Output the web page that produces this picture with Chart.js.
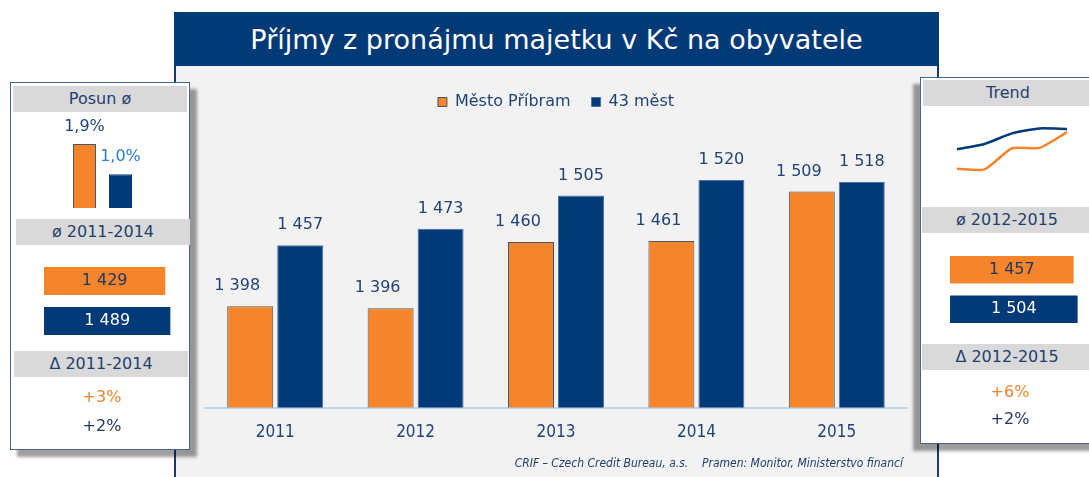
<!DOCTYPE html>
<html>
<head>
<meta charset="utf-8">
<script src="https://cdn.jsdelivr.net/npm/chart.js@4.4.1/dist/chart.umd.min.js"></script>
<style>
  body { margin: 0; width: 1089px; height: 477px; overflow: hidden; background: #fff; position: relative;
         font-family: "DejaVu Sans", sans-serif; color: #1f3f6f; }
  .abs { position: absolute; }
  #frame { left: 174px; top: 12px; width: 761px; height: 475px; border: 2px solid #1b3a6b; background: #f2f2f2; }
  #titlebar { left: 174px; top: 12px; width: 765px; height: 54px; background: #023a78; color: #fff;
              font: 27px "DejaVu Sans", sans-serif; text-align: center; line-height: 56px; }
  #footer { left: 400px; top: 456px; width: 503px; text-align: right; white-space: pre;
            font: italic 12px "DejaVu Sans Condensed", sans-serif; color: #1f3f6f; }
  .panel { background: #fff; border: 1.5px solid #44649a; }
  #left { left: 10px; top: 82px; width: 178px; height: 366px; box-shadow: 7px 7px 3px rgba(0,0,0,0.38); }
  #right { left: 920px; top: 77px; width: 180px; height: 365px; box-shadow: -7px 7px 3px rgba(0,0,0,0.38); }
  .band { background: #d9d9d9; text-align: center; font-size: 16px; line-height: 26px; height: 26px; }
  .big { text-align: center; font-size: 16px; width: 180px; }
  canvas { position: absolute; }
</style>
</head>
<body>
<div id="frame" class="abs"></div>
<div id="titlebar" class="abs">Příjmy z pronájmu majetku v Kč na obyvatele</div>
<canvas id="main" width="760" height="411" style="left:175px;top:66px"></canvas>
<div id="footer" class="abs">CRIF – Czech Credit Bureau, a.s.    Pramen: Monitor, Ministerstvo financí</div>

<div id="left" class="abs panel"></div>
<div class="abs band" style="left:13px;top:86px;width:174px;">Posun ø</div>
<div class="abs band" style="left:16px;top:219px;width:174px;">ø 2011-2014</div>
<div class="abs band" style="left:14px;top:351px;width:174px;">Δ 2011-2014</div>
<div class="abs big" style="left:12px;top:387px;color:#f5842a">+3%</div>
<div class="abs big" style="left:12px;top:416px;color:#1f3864">+2%</div>
<canvas id="posun" width="112" height="96" style="left:46px;top:112px"></canvas>
<canvas id="avgLeft" width="140" height="80" style="left:44px;top:261px"></canvas>

<div id="right" class="abs panel"></div>
<div class="abs band" style="left:923px;top:80px;width:170px;">Trend</div>
<div class="abs band" style="left:922px;top:207px;width:170px;">ø 2012-2015</div>
<div class="abs band" style="left:922px;top:344px;width:170px;">Δ 2012-2015</div>
<div class="abs big" style="left:920px;top:382px;color:#f5842a">+6%</div>
<div class="abs big" style="left:920px;top:409px;color:#1f3864">+2%</div>
<canvas id="trend" width="130" height="113" style="left:947px;top:98px"></canvas>
<canvas id="avgRight" width="140" height="79" style="left:950px;top:250px"></canvas>

<script>
// data
const years = ["2011", "2012", "2013", "2014", "2015"];
const seriesNames = ["Město Příbram", "43 měst"];
const pribram = [1398, 1396, 1460, 1461, 1509];
const mest43 = [1457, 1473, 1505, 1520, 1518];
const posun = [1.9, 1.0];
const avg2011_2014 = [1429, 1489];
const avg2012_2015 = [1457, 1504];

const ORANGE = "#f5842a";
const NAVY = "#003a78";
const TEXT = "#1f4378";

Chart.defaults.font.family = "DejaVu Sans";
Chart.defaults.animation = false;
Chart.defaults.responsive = false;

const fmtNum = (v) => String(v).replace(/\B(?=(\d{3})+(?!\d))/g, " ");
const fmtPct = (v) => v.toFixed(1).replace(".", ",") + "%";

// draws the value labels, above bars or inside them
function makeLabels(cfg) {
  return {
    id: "valueLabels",
    afterDatasetsDraw(chart) {
      const ctx = chart.ctx;
      ctx.save();
      ctx.font = '16px "DejaVu Sans"';
      ctx.textAlign = "center";
      ctx.textBaseline = "middle";
      chart.data.datasets.forEach((ds, di) => {
        chart.getDatasetMeta(di).data.forEach((bar, i) => {
          let x, y;
          if (cfg.inside) {
            x = (bar.x + bar.base) / 2;
            y = bar.y;
          } else {
            x = bar.x + (cfg.dx ? cfg.dx[di] : 0);
            y = bar.y - cfg.gap;
          }
          ctx.fillStyle = cfg.color(di, i);
          ctx.fillText(cfg.format(ds.data[i]), x, y);
        });
      });
      ctx.restore();
    },
  };
}

new Chart(document.getElementById("main"), {
  type: "bar",
  data: {
    labels: years,
    datasets: [
      { label: seriesNames[0], data: pribram, backgroundColor: ORANGE, borderColor: "#4a5568", borderWidth: 1 },
      { label: seriesNames[1], data: mest43, backgroundColor: NAVY, borderColor: "#4d6fa3", borderWidth: 1 },
    ],
  },
  options: {
    layout: { padding: { left: 30, right: 28, top: 7, bottom: 19 } },
    datasets: { bar: { categoryPercentage: 0.712, barPercentage: 0.92 } },
    plugins: {
      legend: {
        position: "top",
        labels: { boxWidth: 9, boxHeight: 9, padding: 21, color: TEXT, font: { size: 16 } },
      },
      tooltip: { enabled: false },
    },
    scales: {
      x: {
        grid: { display: false, drawTicks: false },
        border: { color: "#bdd7ee", width: 2 },
        ticks: { color: TEXT, padding: 15, font: { size: 17, family: "DejaVu Sans Condensed" } },
      },
      y: { display: false, min: 1300, max: 1578 },
    },
  },
  plugins: [makeLabels({ gap: 20, dx: [-13, 0], color: () => TEXT, format: fmtNum })],
});

new Chart(document.getElementById("posun"), {
  type: "bar",
  data: {
    labels: seriesNames,
    datasets: [{ data: posun, backgroundColor: [ORANGE, NAVY], borderColor: ["#4a5568", NAVY], borderWidth: 1 }],
  },
  options: {
    layout: { padding: { left: 20.5, right: 19.5, top: 3, bottom: 0 } },
    datasets: { bar: { categoryPercentage: 1, barPercentage: 0.64 } },
    plugins: { legend: { display: false }, tooltip: { enabled: false } },
    scales: { x: { display: false }, y: { display: false, min: 0, max: 2.76 } },
  },
  plugins: [makeLabels({ gap: 17.5, color: (d, i) => (i === 0 ? "#1f4378" : "#2f7fd8"), format: fmtPct })],
});

function avgChart(id, values) {
  new Chart(document.getElementById(id), {
    type: "bar",
    data: {
      labels: seriesNames,
      datasets: [{ data: values, backgroundColor: [ORANGE, NAVY], borderWidth: 0 }],
    },
    options: {
      indexAxis: "y",
      layout: { padding: 0 },
      datasets: { bar: { categoryPercentage: 1, barPercentage: 0.7 } },
      plugins: { legend: { display: false }, tooltip: { enabled: false } },
      scales: { x: { display: false, min: 0, max: 1650 }, y: { display: false } },
    },
    plugins: [makeLabels({ inside: true, color: (d, i) => (i === 0 ? "#1f3864" : "#ffffff"), format: fmtNum })],
  });
}
avgChart("avgLeft", avg2011_2014);
avgChart("avgRight", avg2012_2015);

new Chart(document.getElementById("trend"), {
  type: "line",
  data: {
    labels: years,
    datasets: [
      { data: mest43, borderColor: NAVY, borderWidth: 2.5, pointRadius: 0, tension: 0.2 },
      { data: pribram, borderColor: ORANGE, borderWidth: 2.5, pointRadius: 0, tension: 0.2 },
    ],
  },
  options: {
    layout: { padding: 10 },
    plugins: { legend: { display: false }, tooltip: { enabled: false } },
    scales: { x: { display: false }, y: { display: false, min: 1300, max: 1582 } },
  },
});
</script>
</body>
</html>
